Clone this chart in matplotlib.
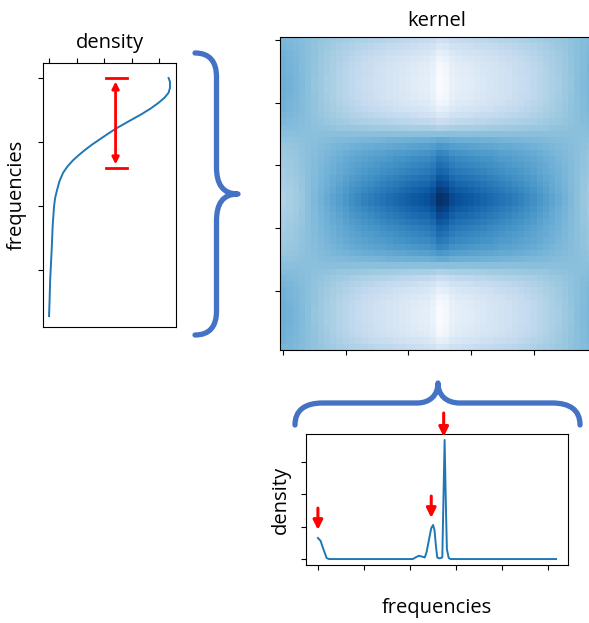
import numpy as np
import matplotlib
matplotlib.use('Agg')
import matplotlib.pyplot as plt
from matplotlib.path import Path
from matplotlib.patches import PathPatch

plt.rcParams['font.family'] = ['Open Sans', 'DejaVu Sans']
FS = 14.5

# ---------------- data ----------------
# left panel: density (x) against frequencies (y, increasing downward)
left_freq = [0, 0.6, 1.56, 2.3, 3.1, 3.9, 4.8, 5.6, 6.35, 7.1, 7.86, 8.7, 9.55, 10.4,
             11.25, 12.0, 12.85, 13.8, 14.8, 16.1, 17.5, 18.75, 20.1, 23.2, 26.4, 31.6,
             34.7, 37.2]
left_density = [4.33, 4.38, 4.38, 4.33, 4.18, 3.96, 3.67, 3.37, 3.06, 2.75, 2.44, 2.14,
                1.85, 1.56, 1.30, 1.09, 0.87, 0.67, 0.51, 0.38, 0.29, 0.22, 0.18, 0.13,
                0.10, 0.04, 0.02, 0.0]

# kernel heatmap: profile through the centre column (rows) and centre row (columns)
kernel_row_profile = [0.20, 0.14, 0.09, 0.05, 0.02, 0.01, 0.0, 0.0, 0.0, 0.01,
                      0.04, 0.08, 0.14, 0.22, 0.32, 0.42, 0.52, 0.60, 0.67, 0.72,
                      0.76, 0.80, 0.85, 0.90, 0.95, 1.0, 1.0, 0.95, 0.90, 0.85,
                      0.80, 0.76, 0.72, 0.67, 0.60, 0.52, 0.42, 0.32, 0.22, 0.14,
                      0.08, 0.04, 0.01, 0.0, 0.0, 0.0, 0.01, 0.03, 0.08, 0.15]
kernel_col_profile = [0.32, 0.34, 0.36, 0.39, 0.42, 0.45, 0.48, 0.51, 0.54, 0.57,
                      0.60, 0.63, 0.655, 0.68, 0.70, 0.72, 0.74, 0.76, 0.78, 0.80,
                      0.82, 0.84, 0.855, 0.87, 0.91, 1.0, 0.97, 0.90, 0.87, 0.855,
                      0.84, 0.82, 0.80, 0.78, 0.76, 0.74, 0.72, 0.70, 0.68, 0.655,
                      0.63, 0.60, 0.57, 0.54, 0.51, 0.48, 0.45, 0.42, 0.39, 0.36]
kernel_base = 0.42
kernel_ticks = [0, 10, 20, 30, 40]

# bottom panel: density against frequencies
bot_freq = [0, 0.58, 1.1, 1.9, 2.4, 20.6, 21.2, 21.9, 22.5, 23.2, 23.6, 24.1, 24.6,
            25.0, 25.3, 25.6, 25.9, 26.4, 27.0, 27.2, 27.5, 27.8, 28.0, 28.4, 28.8, 51.7]
bot_density = [0.65, 0.56, 0.34, 0.03, 0.0, 0.0, 0.05, 0.10, 0.08, 0.05, 0.22, 0.59,
               0.95, 1.05, 0.90, 0.43, 0.05, 0.02, 0.05, 1.5, 3.67, 1.5, 0.3, 0.03, 0.0, 0.0]
bot_xticks = [0, 10, 20, 30, 40, 50]
bot_yticks = [0, 1, 2, 3]
# peaks marked with red arrows (frequency, density of arrow start, arrow tip)
peak_freq = [0.0, 24.6, 27.3]
peak_from = [1.57, 1.94, 4.5]
peak_to = [0.9, 1.27, 3.77]

BRACE = '#4472C4'
LINE = '#1f77b4'

fig = plt.figure(figsize=(5.89, 6.23), dpi=100)
W, H = 589, 623


def rect(l, t, r, b):
    return [l / W, 1 - b / H, (r - l) / W, (b - t) / H]


# ---------------- left panel ----------------
axL = fig.add_axes(rect(43, 63, 176, 327))
axL.plot(left_density, left_freq, color=LINE, lw=1.4)
axL.set_ylim(38.9, -2.34)
axL.xaxis.tick_top()
axL.xaxis.set_label_position('top')
axL.set_xticks([0, 1, 2, 3, 4])
axL.set_yticks([0, 10, 20, 30])
axL.set_xticklabels([])
axL.set_yticklabels([])
axL.set_xlabel('density', fontsize=FS, labelpad=4)
axL.set_ylabel('frequencies', fontsize=FS, labelpad=5)
# red range marker
axL.annotate('', xy=(2.41, 0.55), xytext=(2.41, 13.5),
             arrowprops=dict(arrowstyle='<|-|>', color='red', lw=2,
                             mutation_scale=10, shrinkA=0, shrinkB=0))
axL.plot([2.07, 2.83], [0, 0], color='red', lw=2)
axL.plot([2.07, 2.83], [14.1, 14.1], color='red', lw=2)

# ---------------- kernel heatmap ----------------
rp = np.array(kernel_row_profile)
cp = np.array(kernel_col_profile)
K = kernel_base + np.outer(rp - kernel_base, cp - kernel_base) / (1 - kernel_base)
axK = fig.add_axes(rect(280, 37, 593, 350))
axK.imshow(K, cmap='Blues', aspect='auto', interpolation='nearest')
axK.set_xticks(kernel_ticks)
axK.set_yticks(kernel_ticks)
axK.set_xticklabels([])
axK.set_yticklabels([])
axK.set_title('kernel', fontsize=FS, pad=8)

# ---------------- bottom panel ----------------
axB = fig.add_axes(rect(306, 434, 568, 565))
axB.plot(bot_freq, bot_density, color=LINE, lw=1.4)
axB.set_xticks(bot_xticks)
axB.set_yticks(bot_yticks)
axB.set_xticklabels([])
axB.set_yticklabels([])
axB.set_xlabel('frequencies', fontsize=FS, labelpad=17)
axB.set_ylabel('density', fontsize=FS, labelpad=4)
for fx, f0, f1 in zip(peak_freq, peak_from, peak_to):
    axB.annotate('', xy=(fx, f1), xytext=(fx, f0), annotation_clip=False,
                 arrowprops=dict(arrowstyle='-|>', color='red', lw=2.2,
                                 mutation_scale=14, shrinkA=0, shrinkB=0))

# ---------------- braces (overlay in pixel coordinates) ----------------
ov = fig.add_axes([0, 0, 1, 1], facecolor='none')
ov.set_xlim(0, W)
ov.set_ylim(H, 0)
ov.axis('off')
C4, L2 = Path.CURVE4, Path.LINETO


def brace_vertical(x_end, x_mid, x_tip, y_top, y_bot):
    ym = (y_top + y_bot) / 2
    r = 24
    verts = [(x_end, y_top), (x_end + 15, y_top), (x_mid, y_top + 9), (x_mid, y_top + r),
             (x_mid, ym - 27),
             (x_mid, ym - 10), (x_mid + 6, ym), (x_tip, ym),
             (x_mid + 6, ym), (x_mid, ym + 10), (x_mid, ym + 27),
             (x_mid, y_bot - r),
             (x_mid, y_bot - 9), (x_end + 15, y_bot), (x_end, y_bot)]
    codes = [Path.MOVETO, C4, C4, C4, L2, C4, C4, C4, C4, C4, C4, L2, C4, C4, C4]
    return Path(verts, codes)


def brace_horizontal(x_left, x_right, y_end, y_mid, y_tip, x_tip):
    r = 28
    verts = [(x_left, y_end), (x_left, y_end - 15), (x_left + 10, y_mid), (x_left + r, y_mid),
             (x_tip - 21, y_mid),
             (x_tip - 8, y_mid), (x_tip, y_mid - 8), (x_tip, y_tip),
             (x_tip, y_mid - 8), (x_tip + 8, y_mid), (x_tip + 22, y_mid),
             (x_right - r, y_mid),
             (x_right - 10, y_mid), (x_right, y_end - 15), (x_right, y_end)]
    codes = [Path.MOVETO, C4, C4, C4, L2, C4, C4, C4, C4, C4, C4, L2, C4, C4, C4]
    return Path(verts, codes)


ov.add_patch(PathPatch(brace_vertical(195, 216.5, 238, 53, 335), fill=False,
                       edgecolor=BRACE, lw=3.8, capstyle='round', joinstyle='round'))
ov.add_patch(PathPatch(brace_horizontal(295, 580, 425, 403, 383, 438), fill=False,
                       edgecolor=BRACE, lw=3.8, capstyle='round', joinstyle='round'))

fig.savefig('out.png', dpi=100)
